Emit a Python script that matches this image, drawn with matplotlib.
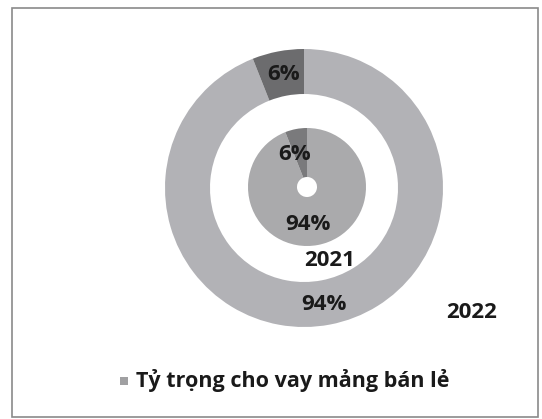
import matplotlib.pyplot as plt
from matplotlib.patches import Rectangle

# ty trong cho vay ban le qua 2 nam
years = ["2021", "2022"]
share_2021 = [94, 6]
share_2022 = [94, 6]
legend_label = "Tỷ trọng cho vay mảng bán lẻ"

plt.rcParams['font.family'] = ['Open Sans', 'DejaVu Sans']

fig = plt.figure(figsize=(5.42, 4.19), dpi=100)
ax = fig.add_axes([0, 0, 1, 1])
H = 419

# khung ngoai
ax.add_patch(Rectangle((12, 2), 526, H - 10, fill=False, ec='#8a8a8a', lw=1.2))

# vong ngoai: 2022
ax.pie(share_2022, startangle=90, counterclock=False, radius=139,
       center=(304, H - 188), colors=['#b2b2b6', '#6c6c6e'],
       wedgeprops=dict(width=45, edgecolor='none'))
# vong trong: 2021
ax.pie(share_2021, startangle=90, counterclock=False, radius=59,
       center=(307, H - 187), colors=['#aaaaac', '#7a7a7c'],
       wedgeprops=dict(width=49, edgecolor='none'))
ax.set_xlim(0, 542)
ax.set_ylim(0, H)
ax.set_aspect('equal')
ax.axis('off')

tk = dict(fontsize=16, fontweight='bold', color='#1a1a1a', ha='center', va='center')
ax.text(284, H - 75, f"{share_2022[1]}%", **tk)
ax.text(324, H - 305, f"{share_2022[0]}%", **tk)
ax.text(295, H - 155, f"{share_2021[1]}%", **tk)
ax.text(308, H - 225, f"{share_2021[0]}%", **tk)
ax.text(330, H - 260, years[0], **tk)
ax.text(472, H - 313, years[1], **tk)

# chu giai
ax.add_patch(Rectangle((120, H - 385), 8, 8, color='#a0a0a2', lw=0))
ax.text(136, H - 381, legend_label, fontsize=15.5, fontweight='bold',
        color='#1a1a1a', ha='left', va='center')

fig.savefig('out.png', dpi=100)
